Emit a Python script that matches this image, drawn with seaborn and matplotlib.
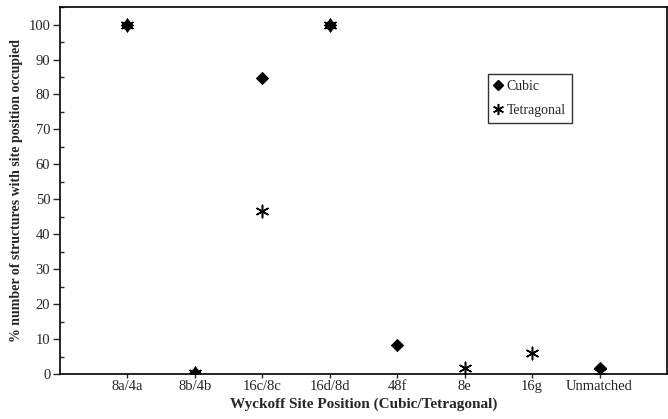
import matplotlib
matplotlib.use("Agg")
import matplotlib.pyplot as plt
import seaborn as sns
import pandas as pd
import numpy as np
from matplotlib.ticker import MultipleLocator
from matplotlib.lines import Line2D

sites = ["8a/4a", "8b/4b", "16c/8c", "16d/8d", "48f", "8e", "16g", "Unmatched"]
cubic = [100, 0.3, 84.7, 100, 8.4, None, None, 1.8]
tetragonal = [100, 0.3, 46.7, 100, None, 1.6, 6.0, 0.5]

def frame(vals):
    d = pd.DataFrame({"site": sites, "pct": vals}).dropna()
    d["xpos"] = [sites.index(s) for s in d["site"]]
    return d

df_c = frame(cubic)
df_t = frame(tetragonal)

sns.set_style("white")
plt.rcParams["font.family"] = ["Liberation Serif", "DejaVu Serif"]

fig = plt.figure(figsize=(6.68, 4.19), dpi=100)
ax = fig.add_axes([0.0898, 0.1074, 0.9087, 0.8756])

sns.scatterplot(data=df_c, x="xpos", y="pct", marker="D", color="black",
                s=40, linewidth=0.5, edgecolor="black", ax=ax, legend=False)
sns.scatterplot(data=df_t, x="xpos", y="pct", marker=(6, 2, 0), color="black",
                s=80, linewidth=1.1, ax=ax, legend=False)

ax.set_xlim(-1, 8)
ax.set_ylim(0, 105)
ax.set_xticks(range(len(sites)))
ax.set_xticklabels(sites, fontsize=10.5)
ax.yaxis.set_major_locator(MultipleLocator(10))
ax.yaxis.set_minor_locator(MultipleLocator(5))
ax.tick_params(axis="y", which="major", direction="out", length=5, width=1, labelsize=10.5, left=True, pad=2)
ax.tick_params(axis="y", which="minor", direction="in", length=3, width=1, left=True)
ax.tick_params(axis="x", which="major", direction="out", length=3, width=1, bottom=True, pad=1.5)
for sp in ax.spines.values():
    sp.set_color("black")
    sp.set_linewidth(1.2)

ax.set_xlabel("Wyckoff Site Position (Cubic/Tetragonal)", fontsize=11, fontweight="bold", labelpad=3)
ax.set_ylabel("% number of structures with site position occupied", fontsize=10, fontweight="bold", labelpad=4)

handles = [Line2D([], [], marker="D", color="black", linestyle="none", markersize=5.5),
           Line2D([], [], marker=(6, 2, 0), color="black", linestyle="none", markersize=8, markeredgewidth=1.1)]
leg = ax.legend(handles, ["Cubic", "Tetragonal"], loc="upper left",
                bbox_to_anchor=(0.705, 0.818), borderaxespad=0, frameon=True, fancybox=False,
                edgecolor="black", fontsize=10, handlelength=0.6, handletextpad=0.3,
                borderpad=0.45, labelspacing=0.75)
leg.get_frame().set_linewidth(1.0)

fig.savefig("out.png", dpi=100)
